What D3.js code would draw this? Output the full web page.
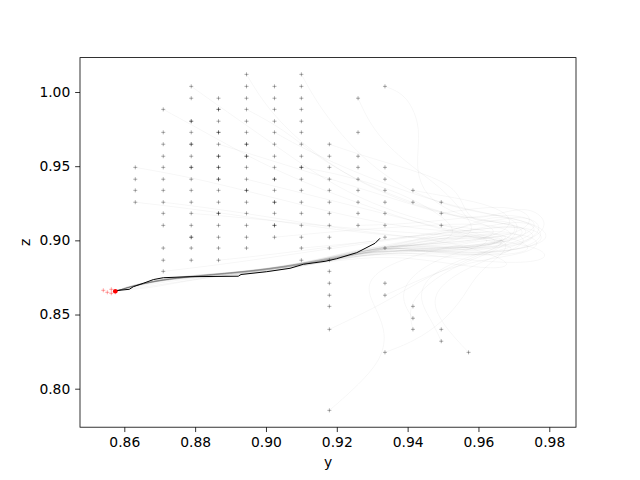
<!DOCTYPE html>
<html><head><meta charset="utf-8">
<script src="https://cdn.jsdelivr.net/npm/d3@7"></script>
<style>body{margin:0;background:#fff}svg{display:block}text{font-family:"DejaVu Sans",sans-serif;fill:#000}</style>
</head><body><svg id="c" width="640" height="480"></svg>
<script>
// ---- data ----
const xTicks = [0.86, 0.88, 0.90, 0.92, 0.94, 0.96, 0.98];
const yTicks = [0.80, 0.85, 0.90, 0.95, 1.00];
const xLabel = "y", yLabel = "z";

// grid markers: column y-values, and the z-values present in each column (repeats = overlapping points)
const colY = [0.8631, 0.8710, 0.8789, 0.8866, 0.8945, 0.9024, 0.9100, 0.9179, 0.9260, 0.9336, 0.9415, 0.9495, 0.9572];
const colZ = [
  [0.9492, 0.9412, 0.9337, 0.9257],
  [0.9883, 0.9728, 0.9648, 0.9567, 0.9492, 0.9412, 0.9337, 0.9257, 0.9182, 0.9101, 0.8948, 0.8866, 0.8791],
  [1.0038, 0.9958, 0.9803, 0.9803, 0.9728, 0.9648, 0.9648, 0.9567, 0.9492, 0.9492, 0.9412, 0.9337, 0.9257, 0.9182, 0.9101, 0.9021, 0.9021, 0.8948, 0.8866],
  [0.9958, 0.9883, 0.9883, 0.9803, 0.9728, 0.9728, 0.9648, 0.9567, 0.9567, 0.9492, 0.9492, 0.9412, 0.9412, 0.9337, 0.9257, 0.9182, 0.9182, 0.9101, 0.9021, 0.8948, 0.8866],
  [1.0119, 1.0038, 0.9958, 0.9883, 0.9803, 0.9728, 0.9648, 0.9648, 0.9567, 0.9567, 0.9492, 0.9412, 0.9337, 0.9337, 0.9257, 0.9182, 0.9101, 0.9021, 0.8948],
  [1.0038, 0.9958, 0.9883, 0.9803, 0.9728, 0.9648, 0.9567, 0.9492, 0.9412, 0.9412, 0.9337, 0.9257, 0.9257, 0.9182, 0.9101, 0.9101, 0.9021],
  [1.0119, 1.0038, 0.9958, 0.9883, 0.9803, 0.9728, 0.9648, 0.9567, 0.9492, 0.9492, 0.9412, 0.9337, 0.9257, 0.9182, 0.9101, 0.9021, 0.8948, 0.8866],
  [0.9648, 0.9567, 0.9492, 0.9412, 0.9337, 0.9257, 0.9182, 0.9101, 0.9021, 0.8948, 0.8866, 0.8791, 0.8711, 0.8630, 0.8555, 0.8400, 0.7854],
  [0.9958, 0.9728, 0.9567, 0.9492, 0.9412, 0.9337, 0.9257, 0.9182, 0.9101],
  [1.0038, 0.9492, 0.9412, 0.9337, 0.9257, 0.9182, 0.9101, 0.9021, 0.8948, 0.8711, 0.8630, 0.8245],
  [0.9337, 0.9257, 0.8555, 0.8475, 0.8400],
  [0.9257, 0.9182, 0.9101, 0.8400, 0.8320],
  [0.8245]
];

// red end points
const redY = [0.85407, 0.85520, 0.85633, 0.85633, 0.85746];
const redZ = [0.86633, 0.86498, 0.86700, 0.86431, 0.86498];
const redEnd = [0.85746, 0.86566];

// highlighted (black) trajectory
const bestY = [0.85695, 0.86141, 0.86254, 0.86536, 0.86819, 0.87101, 0.87855, 0.89219, 0.89295, 0.90021, 0.90679, 0.91054, 0.91667, 0.91997, 0.92562, 0.93079, 0.93220];
const bestZ = [0.86599, 0.86700, 0.86875, 0.87105, 0.87354, 0.87482, 0.87550, 0.87583, 0.87698, 0.87887, 0.88116, 0.88386, 0.88588, 0.88763, 0.89168, 0.89801, 0.90138];

// faint trajectories [y, z]
const trajs = [
 [[0.9336,1.0038],[0.9400,0.998],[0.9440,0.975],[0.9420,0.950],[0.9450,0.928],[0.9560,0.915],[0.9700,0.911],[0.9780,0.903],[0.9700,0.895],[0.9500,0.893],[0.9320,0.898],[0.9150,0.886],[0.9000,0.880],[0.8850,0.876],[0.8680,0.874],[0.8580,0.866]],
 [[0.9100,1.0119],[0.9150,0.990],[0.9250,0.960],[0.9380,0.935],[0.9550,0.920],[0.9720,0.915],[0.9800,0.905],[0.9730,0.893],[0.9550,0.890],[0.9350,0.895],[0.9200,0.888],[0.9000,0.879],[0.8800,0.877],[0.8650,0.872],[0.8575,0.866]],
 [[0.9260,0.9958],[0.9300,0.975],[0.9380,0.955],[0.9500,0.935],[0.9560,0.918],[0.9600,0.905],[0.9500,0.897],[0.9350,0.897],[0.9200,0.889],[0.9050,0.881],[0.8900,0.878],[0.8720,0.875],[0.8600,0.868]],
 [[0.8945,1.0119],[0.9000,0.990],[0.9100,0.965],[0.9250,0.940],[0.9450,0.920],[0.9650,0.912],[0.9760,0.908],[0.9700,0.898],[0.9450,0.893],[0.9280,0.893],[0.9100,0.884],[0.8950,0.879],[0.8780,0.876],[0.8650,0.871],[0.8580,0.866]],
 [[0.8789,1.0038],[0.8900,0.985],[0.9050,0.960],[0.9200,0.935],[0.9400,0.915],[0.9600,0.905],[0.9680,0.898],[0.9550,0.894],[0.9350,0.896],[0.9180,0.886],[0.9000,0.878],[0.8800,0.875],[0.8660,0.870],[0.8580,0.866]],
 [[0.8710,0.9883],[0.8850,0.970],[0.9000,0.950],[0.9200,0.930],[0.9420,0.912],[0.9620,0.900],[0.9720,0.895],[0.9650,0.889],[0.9400,0.892],[0.9250,0.890],[0.9080,0.881],[0.8900,0.876],[0.8700,0.874],[0.8580,0.866]],
 [[0.8631,0.9492],[0.8800,0.942],[0.9000,0.930],[0.9200,0.918],[0.9400,0.908],[0.9580,0.905],[0.9700,0.912],[0.9750,0.903],[0.9600,0.895],[0.9400,0.893],[0.9250,0.891],[0.9100,0.883],[0.8900,0.878],[0.8700,0.875],[0.8585,0.866]],
 [[0.8631,0.9257],[0.8800,0.921],[0.9000,0.914],[0.9200,0.907],[0.9400,0.902],[0.9600,0.900],[0.9700,0.905],[0.9650,0.896],[0.9450,0.893],[0.9300,0.896],[0.9150,0.887],[0.8980,0.880],[0.8800,0.876],[0.8660,0.872],[0.8580,0.866]],
 [[0.8710,0.8791],[0.8850,0.883],[0.9000,0.888],[0.9200,0.895],[0.9400,0.902],[0.9600,0.908],[0.9750,0.910],[0.9800,0.900],[0.9700,0.892],[0.9500,0.891],[0.9330,0.897],[0.9150,0.886],[0.8950,0.879],[0.8750,0.876],[0.8640,0.870],[0.8580,0.866]],
 [[0.9179,0.7854],[0.9250,0.800],[0.9330,0.820],[0.9340,0.840],[0.9300,0.858],[0.9280,0.872],[0.9350,0.885],[0.9500,0.895],[0.9650,0.902],[0.9700,0.897],[0.9500,0.892],[0.9300,0.894],[0.9100,0.883],[0.8900,0.877],[0.8700,0.875],[0.8580,0.866]],
 [[0.9572,0.8245],[0.9530,0.835],[0.9480,0.850],[0.9470,0.865],[0.9550,0.880],[0.9680,0.892],[0.9750,0.900],[0.9680,0.908],[0.9500,0.903],[0.9350,0.898],[0.9200,0.889],[0.9000,0.880],[0.8800,0.876],[0.8650,0.871],[0.8580,0.866]],
 [[0.9336,0.8245],[0.9420,0.832],[0.9500,0.845],[0.9560,0.862],[0.9600,0.880],[0.9700,0.895],[0.9650,0.905],[0.9450,0.898],[0.9300,0.893],[0.9120,0.884],[0.8950,0.878],[0.8760,0.876],[0.8620,0.869],[0.8578,0.866]],
 [[0.9495,0.8320],[0.9470,0.845],[0.9430,0.860],[0.9450,0.875],[0.9550,0.888],[0.9700,0.898],[0.9780,0.907],[0.9720,0.915],[0.9550,0.905],[0.9400,0.899],[0.9250,0.891],[0.9050,0.882],[0.8850,0.877],[0.8680,0.873],[0.8580,0.866]],
 [[0.9415,0.8475],[0.9380,0.860],[0.9400,0.875],[0.9500,0.890],[0.9650,0.898],[0.9600,0.905],[0.9420,0.899],[0.9270,0.892],[0.9100,0.884],[0.8920,0.878],[0.8740,0.875],[0.8620,0.870],[0.8580,0.866]],
 [[0.9024,0.9021],[0.9150,0.905],[0.9300,0.908],[0.9450,0.910],[0.9600,0.912],[0.9720,0.906],[0.9650,0.896],[0.9420,0.895],[0.9250,0.889],[0.9060,0.882],[0.8880,0.877],[0.8700,0.874],[0.8580,0.866]],
 [[0.8866,0.8866],[0.9000,0.890],[0.9200,0.896],[0.9400,0.903],[0.9600,0.907],[0.9700,0.902],[0.9600,0.893],[0.9400,0.893],[0.9220,0.888],[0.9040,0.880],[0.8860,0.876],[0.8680,0.874],[0.8580,0.866]],
 [[0.9100,0.9492],[0.9200,0.945],[0.9350,0.935],[0.9480,0.920],[0.9550,0.905],[0.9480,0.897],[0.9350,0.897],[0.9180,0.887],[0.9000,0.879],[0.8820,0.876],[0.8660,0.872],[0.8580,0.866]],
 [[0.9415,0.9337],[0.9500,0.930],[0.9620,0.925],[0.9700,0.916],[0.9680,0.905],[0.9550,0.898],[0.9380,0.897],[0.9220,0.889],[0.9030,0.881],[0.8850,0.877],[0.8680,0.873],[0.8580,0.866]],
 [[0.9495,0.9101],[0.9600,0.908],[0.9720,0.900],[0.9760,0.893],[0.9650,0.889],[0.9450,0.892],[0.9330,0.897],[0.9150,0.886],[0.8960,0.879],[0.8780,0.876],[0.8640,0.871],[0.8580,0.866]],
 [[0.9179,0.8400],[0.9250,0.848],[0.9350,0.860],[0.9450,0.875],[0.9600,0.890],[0.9700,0.900],[0.9600,0.906],[0.9420,0.898],[0.9260,0.891],[0.9080,0.883],[0.8900,0.877],[0.8720,0.875],[0.8580,0.866]],
 [[0.8945,0.9883],[0.9050,0.975],[0.9150,0.955],[0.9300,0.935],[0.9500,0.918],[0.9680,0.908],[0.9600,0.898],[0.9400,0.896],[0.9240,0.890],[0.9060,0.882],[0.8880,0.877],[0.8700,0.874],[0.8580,0.866]],
 [[0.8789,0.9182],[0.8950,0.915],[0.9150,0.910],[0.9350,0.906],[0.9550,0.903],[0.9700,0.900],[0.9620,0.892],[0.9420,0.893],[0.9270,0.893],[0.9100,0.884],[0.8920,0.878],[0.8720,0.876],[0.8580,0.866]],
 [[0.9024,0.9728],[0.9120,0.960],[0.9260,0.945],[0.9450,0.928],[0.9620,0.918],[0.9760,0.912],[0.9810,0.902],[0.9740,0.894],[0.9560,0.891],[0.9380,0.895],[0.9200,0.888],[0.9000,0.880],[0.8800,0.876],[0.8660,0.872],[0.8580,0.866]],
 [[0.9260,0.9101],[0.9400,0.911],[0.9550,0.915],[0.9680,0.918],[0.9770,0.914],[0.9750,0.904],[0.9620,0.897],[0.9440,0.894],[0.9300,0.895],[0.9120,0.885],[0.8940,0.878],[0.8750,0.875],[0.8600,0.868]],
 [[0.9179,0.9648],[0.9300,0.955],[0.9450,0.945],[0.9540,0.935],[0.9560,0.920],[0.9600,0.910],[0.9720,0.918],[0.9790,0.910],[0.9740,0.898],[0.9580,0.888],[0.9400,0.890],[0.9250,0.891],[0.9080,0.882],[0.8890,0.877],[0.8720,0.874],[0.8580,0.866]],
 [[0.8866,0.9648],[0.9000,0.955],[0.9200,0.940],[0.9400,0.925],[0.9580,0.912],[0.9680,0.920],[0.9750,0.922],[0.9800,0.912],[0.9760,0.900],[0.9620,0.894],[0.9450,0.896],[0.9300,0.897],[0.9140,0.886],[0.8960,0.879],[0.8780,0.876],[0.8640,0.871],[0.8580,0.866]],
 [[0.8710,0.9257],[0.8900,0.920],[0.9100,0.912],[0.9300,0.905],[0.9500,0.900],[0.9620,0.892],[0.9700,0.884],[0.9650,0.880],[0.9500,0.885],[0.9350,0.890],[0.9180,0.886],[0.8990,0.879],[0.8800,0.874],[0.8680,0.868],[0.8580,0.866]],
 [[0.9336,0.8630],[0.9420,0.872],[0.9520,0.882],[0.9640,0.888],[0.9750,0.892],[0.9780,0.900],[0.9700,0.906],[0.9550,0.902],[0.9400,0.898],[0.9240,0.890],[0.9050,0.881],[0.8860,0.876],[0.8700,0.870],[0.8580,0.866]],
 [[0.9100,0.8948],[0.9250,0.898],[0.9400,0.902],[0.9550,0.908],[0.9650,0.915],[0.9720,0.910],[0.9680,0.898],[0.9500,0.895],[0.9350,0.898],[0.9190,0.887],[0.9010,0.880],[0.8830,0.876],[0.8660,0.872],[0.8580,0.866]],
 [[0.9415,0.8400],[0.9400,0.855],[0.9450,0.870],[0.9550,0.885],[0.9680,0.895],[0.9730,0.912],[0.9650,0.918],[0.9550,0.908],[0.9420,0.900],[0.9260,0.892],[0.9070,0.882],[0.8880,0.877],[0.8700,0.874],[0.8580,0.866]],
 [[0.9495,0.9182],[0.9600,0.922],[0.9700,0.923],[0.9760,0.915],[0.9720,0.905],[0.9600,0.900],[0.9450,0.898],[0.9280,0.892],[0.9100,0.884],[0.8920,0.878],[0.8740,0.875],[0.8620,0.869],[0.8580,0.866]],
 [[0.8945,0.9412],[0.9100,0.932],[0.9300,0.920],[0.9500,0.908],[0.9650,0.900],[0.9780,0.895],[0.9800,0.887],[0.9700,0.884],[0.9520,0.888],[0.9380,0.893],[0.9210,0.888],[0.9020,0.881],[0.8840,0.877],[0.8680,0.873],[0.8580,0.866]]
];

// ---- drawing ----
const W = 640, H = 480;
const L = 80, R = 576, T = 57.6, B = 427.2;
const svg = d3.select("#c");
const x = d3.scaleLinear().domain([0.84749, 0.98754]).range([L, R]);
const y = d3.scaleLinear().domain([0.77405, 1.02319]).range([B, T]);

const plot = svg.append("g");
plot.append("clipPath").attr("id","clip").append("rect").attr("x",L).attr("y",T).attr("width",R-L).attr("height",B-T);
const g = plot.append("g").attr("clip-path","url(#clip)");

const line = d3.line().x(d => x(d[0])).y(d => y(d[1])).curve(d3.curveBasis);
g.selectAll("path.traj").data(trajs).join("path").attr("class","traj")
  .attr("d", line).attr("fill","none").attr("stroke","#000")
  .attr("stroke-opacity",0.05).attr("stroke-width",0.7);

// grid markers
const pts = [];
colY.forEach((cy, i) => colZ[i].forEach(z => pts.push([cy, z])));
const plusPath = (cx, cy, s) => `M${cx-s},${cy}H${cx+s}M${cx},${cy-s}V${cy+s}`;
g.selectAll("path.pt").data(pts).join("path").attr("class","pt")
  .attr("d", d => plusPath(x(d[0]), y(d[1]), 2))
  .attr("stroke","#000").attr("stroke-opacity",0.36).attr("stroke-width",0.9).attr("fill","none");

// best trajectory
const bestLine = d3.line().x(d => x(d[0])).y(d => y(d[1]));
g.append("path").datum(bestY.map((v,i)=>[v,bestZ[i]])).attr("d", bestLine)
  .attr("fill","none").attr("stroke","#000").attr("stroke-width",1);

// red points
g.selectAll("path.red").data(redY.map((v,i)=>[v,redZ[i]])).join("path").attr("class","red")
  .attr("d", d => plusPath(x(d[0]), y(d[1]), 2))
  .attr("stroke","#f00").attr("stroke-opacity",0.4).attr("stroke-width",0.9).attr("fill","none");
g.append("circle").attr("cx", x(redEnd[0])).attr("cy", y(redEnd[1])).attr("r", 2.3).attr("fill","#f00");

// axes
const xAxis = d3.axisBottom(x).tickValues(xTicks).tickFormat(d3.format(".2f")).tickSize(4.86).tickPadding(4.86);
const yAxis = d3.axisLeft(y).tickValues(yTicks).tickFormat(d3.format(".2f")).tickSize(4.86).tickPadding(4.86);
const gx = svg.append("g").attr("transform",`translate(0,${B})`).call(xAxis);
const gy = svg.append("g").attr("transform",`translate(${L},0)`).call(yAxis);
[gx, gy].forEach(a => {
  a.select(".domain").remove();
  a.selectAll("line").attr("stroke","#000").attr("stroke-width",0.8);
  a.selectAll("text").attr("font-size","13.89px").attr("font-family","DejaVu Sans").attr("fill","#000");
});
svg.append("rect").attr("x",L).attr("y",T).attr("width",R-L).attr("height",B-T)
  .attr("fill","none").attr("stroke","#000").attr("stroke-width",0.8);

svg.append("text").attr("x",(L+R)/2).attr("y",467).attr("text-anchor","middle")
  .attr("font-size","13.89px").text(xLabel);
svg.append("text").attr("transform",`translate(29.5,${(T+B)/2}) rotate(-90)`).attr("text-anchor","middle")
  .attr("font-size","13.89px").text(yLabel);
</script></body></html>
